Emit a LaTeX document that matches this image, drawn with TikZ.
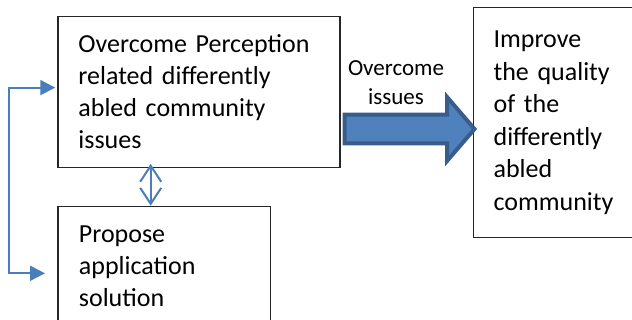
\documentclass[tikz,border=0pt]{standalone}
\usepackage{fontspec}
\setmainfont{Carlito}
\usetikzlibrary{arrows.meta}
\definecolor{linkblue}{RGB}{74,126,187}
\definecolor{arrowfill}{RGB}{79,129,189}
\definecolor{arrowedge}{RGB}{56,93,138}

\begin{document}
\begin{tikzpicture}[x = 1pt, y = -1pt,
    box/.style = {draw = black!85, line width = 1.2pt, anchor = north west,
                  inner xsep = 20.5pt, inner ysep = 0pt, align = left,
                  font = \fontsize{26}{32}\selectfont},
    link/.style = {draw = linkblue, line width = 2pt}]
  \clip (0, 0) rectangle (632, 320);
  \node[box, text width = 241pt, minimum height = 151pt] (perc) at (57.3, 15.7)
    {Overcome Perception\\ related differently\\ abled community\\ issues};
  \node[box, inner xsep = 21pt, text width = 170.7pt, minimum height = 120pt] (prop) at (57.3, 205.7)
    {Propose\\ application\\ solution};
  \node[box, inner xsep = 20pt, text width = 130pt, minimum height = 229.7pt,
        font = \fontsize{26}{32.5}\selectfont] (impr) at (473, 7.3)
    {Improve\\ the quality\\ of the\\ differently\\ abled\\ community\\[-4pt]};
  % big arrow between the two upper boxes
  \draw[draw = arrowedge, fill = arrowfill, line width = 4pt, line join = miter]
    (344.7, 114.7) -- (447, 114.7) -- (447, 97) -- (474.5, 129)
    -- (447, 161) -- (447, 143.3) -- (344.7, 143.3) -- cycle;
  \node[font = \fontsize{23}{29}\selectfont, align = center, anchor = north, inner sep = 0pt]
    (gap) at (396, 60) {Overcome\\ issues};
  \draw[link, {Triangle[length = 15pt, width = 15pt]}-{Triangle[length = 15pt, width = 15pt]}]
    ([xshift = -2pt, yshift = 4.2pt]perc.west) -| (9, 180)
    |- ([xshift = -12.3pt, yshift = -7pt]prop.west);
  \draw[link, {Straight Barb[length = 16pt, width = 21pt]}-{Straight Barb[length = 16pt, width = 21pt]}]
    ([xshift = 93.4pt, yshift = 4pt]perc.south west) -- ([xshift = 93.4pt]prop.north west);
  % \draw (9, 87) -- (9, 273);
\end{tikzpicture}
\end{document}
